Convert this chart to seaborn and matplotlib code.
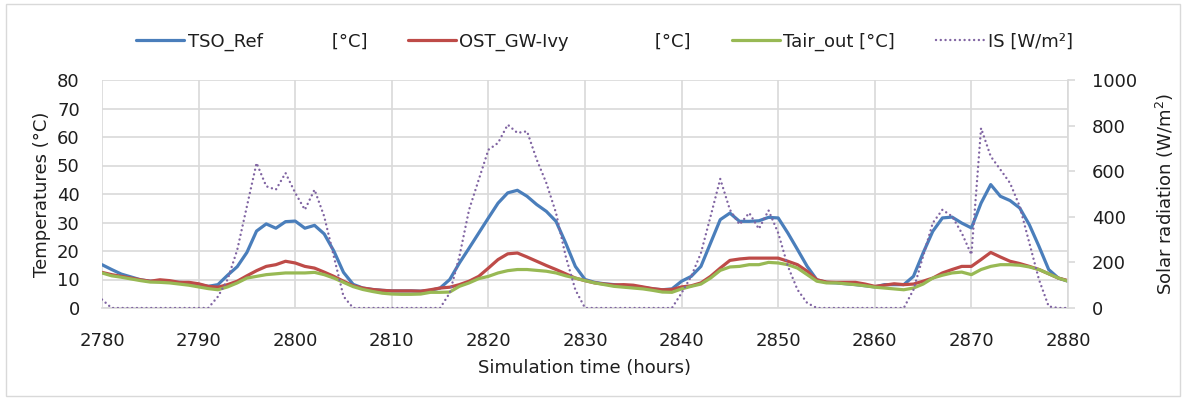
import numpy as np
import pandas as pd
import matplotlib
matplotlib.use("Agg")
import matplotlib.pyplot as plt
from matplotlib.patches import Rectangle
import seaborn as sns

hours = list(range(2780, 2881))

tso_ref = [15.2, 13.5, 11.9, 10.9, 9.9, 9.4, 9.4, 9.1, 9.0, 8.8,
           8.2, 7.6, 8.2, 11.5, 14.5, 19.5, 27.0, 29.5, 28.0, 30.3,
           30.5, 28.0, 29.0, 26.0, 20.0, 12.5, 8.3, 7.0, 6.5, 6.2,
           6.0, 6.0, 6.0, 5.9, 6.2, 7.0, 10.0, 15.8, 21.0, 26.3,
           31.6, 36.8, 40.4, 41.3, 39.2, 36.3, 33.9, 30.4, 22.8, 14.6,
           10.0, 9.0, 8.5, 8.2, 7.8, 7.6, 7.2, 6.7, 6.4, 6.7,
           9.4, 11.1, 14.6, 22.8, 31.0, 33.3, 30.4, 30.4, 30.6, 31.8,
           31.6, 26.3, 20.5, 14.6, 9.9, 9.0, 8.8, 8.5, 8.2, 7.8,
           7.4, 8.2, 8.2, 8.2, 11.1, 19.3, 26.9, 31.6, 31.9, 29.8,
           28.1, 36.8, 43.3, 39.2, 37.7, 35.1, 29.2, 21.6, 13.5, 10.5,
           9.4]

ost_gw_ivy = [12.5, 11.7, 11.1, 10.5, 9.9, 9.4, 9.9, 9.6, 9.0, 9.0,
              8.5, 7.6, 7.3, 8.2, 9.4, 11.3, 13.1, 14.6, 15.2, 16.4,
              15.8, 14.6, 14.0, 12.6, 11.1, 9.4, 7.8, 7.0, 6.5, 6.2,
              6.0, 6.0, 6.0, 5.9, 6.4, 7.0, 7.3, 8.2, 9.4, 11.1,
              14.0, 17.0, 19.0, 19.3, 17.9, 16.4, 14.9, 13.5, 12.0, 10.5,
              9.6, 8.8, 8.4, 8.1, 8.2, 8.0, 7.4, 6.8, 6.4, 6.5,
              7.4, 7.8, 8.8, 11.1, 14.0, 16.7, 17.2, 17.5, 17.5, 17.5,
              17.5, 16.4, 15.2, 12.9, 9.9, 9.1, 9.0, 9.0, 9.0, 8.4,
              7.6, 8.0, 8.5, 8.2, 8.4, 9.4, 10.5, 12.3, 13.5, 14.6,
              14.6, 17.0, 19.5, 17.9, 16.4, 15.6, 14.6, 13.5, 12.0, 10.5,
              9.6]

tair_out = [12.3, 11.3, 10.8, 10.2, 9.6, 9.1, 9.0, 8.8, 8.4, 8.0,
            7.4, 6.8, 6.4, 7.4, 8.8, 10.5, 11.1, 11.7, 12.0, 12.3,
            12.3, 12.3, 12.5, 11.7, 10.5, 9.0, 7.5, 6.5, 5.8, 5.2,
            4.9, 4.8, 4.8, 4.9, 5.5, 5.5, 5.6, 7.6, 8.8, 10.3,
            11.1, 12.3, 13.1, 13.5, 13.5, 13.2, 12.9, 12.3, 11.3, 10.5,
            9.6, 8.8, 8.2, 7.6, 7.3, 7.0, 6.7, 6.2, 5.6, 5.5,
            6.7, 7.6, 8.4, 10.5, 13.2, 14.4, 14.6, 15.2, 15.2, 16.0,
            15.8, 15.2, 14.0, 11.7, 9.4, 8.8, 8.8, 8.5, 8.2, 7.8,
            7.3, 7.0, 6.7, 6.4, 7.0, 8.4, 10.5, 11.5, 12.3, 12.6,
            11.7, 13.5, 14.6, 15.2, 15.2, 15.0, 14.4, 13.5, 12.0, 10.5,
            9.4]

solar_is = [37, 0, 0, 0, 0, 0, 0, 0, 0, 0,
            0, 0, 50, 125, 255, 446, 636, 534, 519, 592,
            505, 431, 519, 402, 226, 51, 0, 0, 0, 0,
            0, 0, 0, 0, 0, 0, 66, 227, 431, 563,
            694, 724, 804, 768, 775, 651, 548, 417, 227, 80,
            0, 0, 0, 0, 0, 0, 0, 0, 0, 0,
            66, 139, 241, 402, 566, 431, 366, 417, 347, 428,
            329, 183, 80, 22, 0, 0, 0, 0, 0, 0,
            0, 0, 0, 0, 80, 227, 373, 431, 402, 329,
            234, 789, 665, 607, 548, 446, 285, 124, 7, 0,
            0]

labels = ["TSO_Ref" + " " * 12 + "[°C]", "OST_GW-Ivy" + " " * 15 + "[°C]",
          "Tair_out [°C]", "IS [W/m²]"]
colors = ["#4A7EBB", "#BE4B48", "#98B954", "#8064A2"]

df = pd.DataFrame({"hour": hours, "tso": tso_ref, "ost": ost_gw_ivy,
                   "tair": tair_out, "is": solar_is})

sns.set_style("white")
plt.rcParams["font.family"] = ["DejaVu Sans"]

FS = 13
TXT = "#1E1E1E"

fig = plt.figure(figsize=(11.87, 4.01), dpi=100)
ax = fig.add_axes([102 / 1187, 1 - 308 / 401, (1068 - 102) / 1187, (308 - 80) / 401])
ax2 = ax.twinx()

kw = dict(solid_joinstyle="round", solid_capstyle="round")
sns.lineplot(data=df, x="hour", y="tso", ax=ax, color=colors[0], lw=2.3, label=labels[0], legend=False, **kw)
sns.lineplot(data=df, x="hour", y="ost", ax=ax, color=colors[1], lw=2.3, label=labels[1], legend=False, **kw)
sns.lineplot(data=df, x="hour", y="tair", ax=ax, color=colors[2], lw=2.3, label=labels[2], legend=False, **kw)
sns.lineplot(data=df, x="hour", y="is", ax=ax2, color=colors[3], lw=1.75,
             linestyle=(0, (0.01, 1.95)), dash_capstyle="round", label=labels[3], legend=False)

ax.set_xlim(2780, 2880)
ax.set_ylim(0, 80)
ax2.set_ylim(0, 1000)
ax.set_xticks(range(2780, 2881, 10))
ax.set_yticks(range(0, 81, 10))
ax2.set_yticks(range(0, 1001, 200))

gcol = "#D9D9D9"
ax.grid(True, color=gcol, lw=1.2)
ax.set_axisbelow(True)
ax2.grid(False)
for a in (ax, ax2):
    for s in ("top", "left", "right", "bottom"):
        a.spines[s].set_visible(False)
ax.spines["bottom"].set_visible(True)
ax.spines["bottom"].set_color(gcol)
ax.spines["bottom"].set_linewidth(1.2)
ax2.spines["right"].set_visible(True)
ax2.spines["right"].set_color(gcol)
ax2.spines["right"].set_linewidth(1.2)

ax.tick_params(axis="y", length=0, labelsize=FS, colors=TXT, pad=16)
ax.tick_params(axis="x", length=0, labelsize=FS, colors=TXT, pad=17)
ax2.tick_params(axis="y", length=5, width=1.2, color=gcol, labelsize=FS,
                labelcolor=TXT, direction="out", pad=12)

ax.set_xlabel("Simulation time (hours)", fontsize=FS, color=TXT, labelpad=7)
ax.set_ylabel("Temperatures (°C)", fontsize=FS, color=TXT, labelpad=4)
ax2.set_ylabel("Solar radiation (W/m$^2$)", fontsize=FS, color=TXT, labelpad=12)

h1, l1 = ax.get_legend_handles_labels()
h2, l2 = ax2.get_legend_handles_labels()
fig.legend(h1 + h2, l1 + l2, loc="center", bbox_to_anchor=(0.509, 0.896), ncol=4,
           frameon=False, fontsize=FS, handlelength=2.7, handletextpad=0.17,
           columnspacing=2.25, labelcolor=TXT)

fig.patches.append(Rectangle((6 / 1187, 5 / 401), 1174 / 1187, 392 / 401,
                             transform=fig.transFigure, fill=False,
                             edgecolor="#D9D9D9", lw=1.0))

fig.savefig("out.png", dpi=100)
